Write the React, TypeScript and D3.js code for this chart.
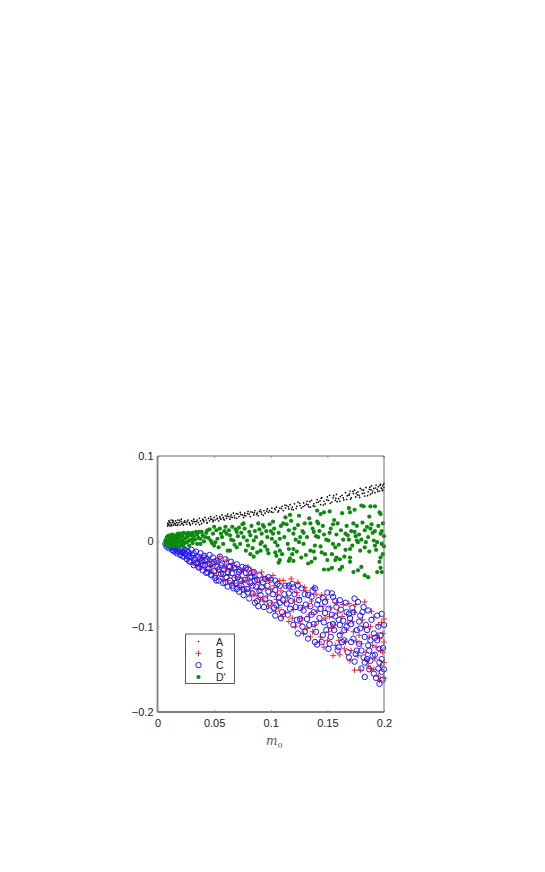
import { useEffect, useRef } from 'react';
import * as d3 from 'd3';

type Pt = [number, number];

const xTicks = [0, 0.05, 0.1, 0.15, 0.2];
const yTicks = [-0.2, -0.1, 0, 0.1];
const legendLabels = ['A', 'B', 'C', "D'"];

const seriesA: Pt[] = [
  [.009,.018],[.009,.021],[.010,.024],[.010,.020],[.011,.022],[.011,.018],[.012,.025],[.012,.020],[.013,.022],[.014,.019],[.014,.023],[.015,.021],[.016,.024],[.016,.019],[.017,.022],[.018,.020],[.018,.025],[.019,.022],[.020,.019],[.021,.023],[.021,.026],[.022,.021],[.023,.019],[.024,.024],[.025,.022],[.026,.020],[.027,.025],[.028,.022],[.029,.019],[.030,.024],[.031,.021],[.032,.026],[.033,.023],[.034,.020],[.035,.025],[.036,.022],[.037,.027],[.038,.024],[.039,.021],[.040,.026],[.041,.023],[.042,.028],[.043,.025],[.044,.022],[.045,.027],[.046,.024],[.047,.029],[.048,.026],[.049,.023],[.050,.028],[.051,.025],[.052,.030],[.053,.027],[.054,.024],[.055,.029],[.056,.026],[.057,.031],[.058,.028],[.059,.025],[.060,.030],[.061,.027],[.062,.032],[.063,.029],[.064,.026],[.065,.031],[.066,.028],[.067,.033],[.068,.030],[.070,.027],[.071,.032],[.072,.029],[.073,.034],[.075,.031],[.076,.028],[.077,.033],[.078,.030],[.080,.035],[.081,.032],[.082,.029],[.084,.034],[.085,.031],[.086,.036],[.088,.033],[.089,.030],[.090,.035],[.091,.037],[.092,.032],[.094,.036],[.095,.033],[.097,.038],[.098,.034],[.099,.036],[.101,.039],[.102,.034],[.104,.037],[.105,.040],[.107,.036],[.108,.039],[.110,.041],[.111,.036],[.113,.039],[.114,.042],[.116,.038],[.117,.043],[.119,.040],[.120,.037],[.121,.044],[.123,.041],[.124,.046],[.126,.042],[.127,.039],[.129,.045],[.130,.042],[.132,.047],[.133,.043],[.135,.040],[.136,.048],[.138,.044],[.139,.041],[.141,.049],[.142,.046],[.144,.043],[.145,.051],[.147,.047],[.148,.044],[.150,.052],[.151,.048],[.152,.054],[.154,.046],[.155,.051],[.157,.048],[.158,.055],[.160,.050],[.161,.047],[.163,.054],[.164,.051],[.166,.057],[.167,.049],[.169,.054],[.170,.059],[.171,.051],[.173,.056],[.174,.060],[.175,.052],[.177,.058],[.178,.054],[.179,.062],[.181,.056],[.182,.060],[.183,.053],[.184,.063],[.186,.058],[.187,.061],[.188,.055],[.189,.065],[.190,.059],[.191,.062],[.192,.057],[.193,.066],[.194,.061],[.195,.064],[.196,.059],[.197,.067],[.198,.062],[.199,.065],[.199,.060],[.200,.068],[.200,.063],
  [.0095,.0195],[.0105,.0225],[.0125,.0185],[.0135,.0245],[.0155,.0205],[.0175,.0185],[.0195,.0245],[.0215,.0205],[.0235,.0225],[.0262,.0235],[.0285,.0205],[.0315,.0235],[.0345,.0235],[.0372,.0195],[.0405,.0245],[.0435,.0215],[.0468,.0262],[.0492,.0245],[.0525,.0262],[.0552,.0272],[.0585,.0262],[.0615,.0295],[.0648,.0285],[.0682,.0275],[.0695,.0325],[.0735,.0315],[.0768,.0305],[.0795,.0325],[.0825,.0345],[.0855,.0335],[.0875,.0315],[.0915,.0345],[.0935,.0305],[.0965,.0355],[.1005,.0345],[.1035,.0385],[.1065,.0345],[.1095,.0385],[.1125,.0425],[.1155,.0405],[.1185,.0375],[.1225,.0385],[.1255,.0445],[.1285,.0405],[.1315,.0435],[.1345,.0465],[.1375,.0415],[.1405,.0455],[.1435,.0475],[.1465,.0425],[.1495,.0485],[.1525,.0445],[.1555,.0535],[.1585,.0465],[.1615,.0525],[.1645,.0485],[.1675,.0535],[.1705,.0495],[.1725,.0585],[.1755,.0565],[.1785,.0515],[.1805,.0605],[.1825,.0565],[.1855,.0535],[.1875,.0635],[.1895,.0565],[.1925,.0625],[.1945,.0585],[.1965,.0655],[.1985,.0595],[.1995,.0665],[.1975,.0625],[.1885,.0605],[.1765,.0545],[.1695,.0555],[.1575,.0505],[.1445,.0505],[.1335,.0405],
];

const seriesB: Pt[] = [
  [.010,-.006],[.013,-.005],[.016,-.012],[.019,-.010],[.022,-.015],[.024,-.011],[.027,-.020],[.029,-.014],[.031,-.025],[.033,-.017],[.035,-.022],[.037,-.029],[.039,-.019],[.041,-.026],[.043,-.033],[.045,-.021],[.047,-.028],[.049,-.037],[.051,-.024],[.053,-.033],[.055,-.018],[.057,-.041],[.059,-.028],[.061,-.022],[.062,-.046],[.064,-.035],[.066,-.026],[.068,-.049],[.070,-.030],[.072,-.042],[.074,-.054],[.076,-.034],[.078,-.046],[.080,-.030],[.082,-.058],[.084,-.040],[.086,-.036],[.088,-.064],[.090,-.048],[.092,-.036],[.094,-.070],[.096,-.044],[.098,-.076],[.100,-.056],[.102,-.040],[.104,-.082],[.106,-.062],[.108,-.046],[.110,-.088],[.112,-.072],[.114,-.052],[.116,-.094],[.118,-.044],[.120,-.080],[.122,-.100],[.124,-.048],[.125,-.066],[.127,-.090],[.129,-.108],[.131,-.058],[.133,-.076],[.135,-.112],[.138,-.054],[.139,-.098],[.141,-.082],[.143,-.118],[.145,-.063],[.147,-.124],[.148,-.090],[.149,-.068],[.151,-.106],[.153,-.078],[.155,-.134],[.156,-.098],[.158,-.072],[.160,-.116],[.161,-.133],[.163,-.088],[.165,-.126],[.167,-.104],[.169,-.073],[.170,-.140],[.172,-.094],[.174,-.083],[.174,-.151],[.176,-.118],[.178,-.110],[.179,-.151],[.181,-.092],[.183,-.071],[.184,-.130],[.186,-.146],[.188,-.149],[.188,-.100],[.190,-.122],[.191,-.089],[.192,-.138],[.194,-.110],[.195,-.158],[.196,-.114],[.196,-.163],[.197,-.128],[.198,-.095],[.199,-.108],[.200,-.091],[.200,-.160],[.200,-.142],
  [.034,-.028],[.038,-.024],[.042,-.017],[.046,-.035],[.048,-.030],[.052,-.040],[.054,-.022],[.056,-.036],[.058,-.045],[.060,-.032],[.063,-.040],[.065,-.050],[.067,-.033],[.069,-.042],[.071,-.052],[.073,-.036],[.075,-.047],[.077,-.057],[.079,-.040],[.081,-.050],[.083,-.034],[.085,-.062],[.087,-.044],[.089,-.056],[.091,-.068],[.093,-.042],[.095,-.055],[.097,-.064],[.099,-.046],[.101,-.072],[.103,-.052],[.105,-.068],[.107,-.078],[.109,-.058],[.111,-.046],[.113,-.084],[.115,-.066],[.117,-.056],[.119,-.090],[.121,-.070],[.123,-.060],[.126,-.096],[.128,-.078],[.130,-.054],[.132,-.102],[.134,-.086],[.136,-.070],[.137,-.106],[.140,-.062],[.142,-.094],[.144,-.112],[.146,-.076],[.150,-.116],[.152,-.088],[.154,-.102],[.157,-.122],[.159,-.084],[.162,-.108],[.164,-.074],[.166,-.118],[.168,-.096],[.171,-.128],[.173,-.106],[.175,-.074],[.177,-.134],[.180,-.120],[.182,-.100],[.185,-.140],[.187,-.112],[.189,-.082],[.191,-.150],[.193,-.124],[.195,-.098],[.197,-.146],[.199,-.130],[.200,-.118],
];

const seriesC: Pt[] = [
  [.007,-.003],[.008,-.006],[.009,-.004],[.010,-.008],[.011,-.006],[.012,-.003],[.013,-.010],[.014,-.007],[.015,-.005],[.015,-.012],[.016,-.009],[.017,-.014],[.018,-.006],[.019,-.011],[.020,-.016],[.021,-.008],[.022,-.013],[.023,-.018],[.024,-.010],[.025,-.015],[.026,-.021],[.027,-.012],[.028,-.018],[.029,-.024],[.030,-.010],[.031,-.016],[.032,-.028],[.033,-.021],[.034,-.012],[.035,-.026],[.036,-.018],[.037,-.031],[.038,-.014],[.039,-.023],[.040,-.034],[.041,-.017],[.042,-.028],[.043,-.037],[.044,-.021],[.045,-.032],[.046,-.016],[.047,-.039],[.048,-.026],[.049,-.019],[.050,-.035],[.051,-.043],[.052,-.023],[.053,-.030],[.054,-.046],[.055,-.018],[.056,-.038],[.057,-.026],[.058,-.049],[.059,-.033],[.060,-.021],[.061,-.042],[.062,-.053],[.063,-.029],[.064,-.046],[.065,-.024],[.066,-.037],[.067,-.055],[.068,-.031],[.069,-.049],[.070,-.027],[.071,-.042],[.072,-.059],[.073,-.034],[.074,-.052],[.075,-.030],[.076,-.063],[.077,-.045],[.078,-.037],[.079,-.056],[.080,-.033],[.081,-.067],[.082,-.049],[.083,-.041],[.084,-.061],[.085,-.036],[.086,-.072],[.087,-.053],[.088,-.045],[.089,-.076],[.090,-.040],[.091,-.063],
  [.092,-.054],[.094,-.077],[.095,-.044],[.098,-.042],[.098,-.059],[.099,-.081],[.104,-.046],[.104,-.057],[.104,-.087],[.105,-.075],[.108,-.052],[.110,-.083],[.111,-.069],[.113,-.052],[.116,-.061],[.117,-.079],[.119,-.050],[.120,-.054],[.120,-.098],[.122,-.077],[.124,-.108],[.126,-.091],[.127,-.055],[.129,-.081],[.130,-.106],[.132,-.091],[.133,-.063],[.136,-.065],[.138,-.083],[.138,-.097],[.139,-.055],[.139,-.118],[.141,-.121],[.142,-.069],[.144,-.079],[.147,-.095],[.148,-.071],[.151,-.079],[.151,-.126],[.152,-.098],[.152,-.120],[.154,-.061],[.155,-.065],[.155,-.097],[.158,-.077],[.160,-.124],[.161,-.069],[.161,-.098],[.161,-.110],[.164,-.093],[.167,-.083],[.167,-.100],[.169,-.085],[.169,-.136],[.173,-.083],[.173,-.114],[.174,-.067],[.174,-.141],[.176,-.128],[.177,-.071],[.179,-.087],[.179,-.102],[.180,-.149],[.182,-.077],[.182,-.136],[.183,-.112],[.183,-.159],[.185,-.104],[.185,-.138],[.186,-.081],[.188,-.116],[.188,-.140],[.191,-.108],[.191,-.155],[.194,-.087],[.194,-.116],[.195,-.149],[.196,-.126],[.196,-.167],[.198,-.085],[.198,-.138],[.198,-.153],[.200,-.098],[.107,-.066],[.114,-.073],[.125,-.069],[.135,-.076],[.146,-.110],[.157,-.088],[.165,-.116],[.171,-.097],[.178,-.120],[.187,-.128],[.192,-.133],
  [.012,-.007],[.014,-.011],[.016,-.006],[.018,-.012],[.020,-.009],[.022,-.017],[.024,-.014],[.026,-.011],[.028,-.023],[.030,-.019],[.032,-.014],[.034,-.025],[.036,-.030],[.038,-.020],[.040,-.028],[.042,-.022],[.044,-.036],[.046,-.027],[.048,-.040],[.050,-.024],[.052,-.046],[.054,-.033],[.056,-.028],[.058,-.038],[.060,-.048],[.062,-.036],[.064,-.030],[.066,-.052],[.068,-.043],[.070,-.056],[.072,-.036],[.074,-.046],[.076,-.056],[.078,-.031],[.080,-.060],[.082,-.042],[.084,-.052],[.086,-.046],[.088,-.070],[.090,-.058],[.093,-.048],[.095,-.068],[.097,-.052],[.099,-.072],[.100,-.045],[.102,-.062],[.103,-.078],[.106,-.050],[.108,-.072],[.109,-.090],[.112,-.062],[.115,-.086],[.116,-.052],[.118,-.070],[.121,-.062],[.123,-.092],[.124,-.052],[.126,-.078],[.128,-.100],[.130,-.062],[.131,-.074],[.133,-.114],[.134,-.098],[.136,-.086],[.137,-.058],[.140,-.106],[.141,-.074],[.143,-.090],[.145,-.118],[.146,-.066],[.148,-.084],[.149,-.104],[.150,-.060],[.153,-.112],[.154,-.086],[.156,-.104],[.157,-.070],[.159,-.128],[.160,-.092],[.162,-.080],[.163,-.118],[.165,-.104],[.166,-.072],[.168,-.130],[.170,-.090],[.171,-.118],[.172,-.078],[.175,-.132],[.176,-.104],[.178,-.094],[.180,-.128],[.181,-.083],[.183,-.142],[.184,-.098],[.186,-.122],[.187,-.150],[.189,-.092],[.190,-.134],[.192,-.113],[.193,-.160],[.195,-.100],[.196,-.142],[.197,-.110],[.199,-.125],[.199,-.162],[.200,-.150],
];

const seriesD: Pt[] = [
  [.007,.001],[.007,-.003],[.008,.004],[.008,-.002],[.009,.006],[.009,-.005],[.010,.002],[.010,-.006],[.011,.007],[.011,-.001],[.012,.004],[.012,-.004],[.013,.008],[.013,.000],[.014,-.006],[.014,.005],[.015,.002],[.015,-.003],[.016,.007],[.016,-.005],[.017,.003],[.018,-.001],[.018,.009],[.019,.005],[.019,-.007],[.020,.009],[.020,.001],[.021,-.003],[.022,.006],[.023,-.006],[.024,.003],[.025,.009],[.026,-.001],[.027,.006],[.028,-.005],[.029,.009],[.030,.002],[.031,-.002],[.032,.006],[.034,.011],[.035,-.003],[.036,.004],
  [.038,-.003],[.039,.011],[.042,.005],[.044,.013],[.047,.001],[.050,.017],[.050,-.005],[.051,-.001],[.054,-.007],[.056,.009],[.057,.005],[.059,.012],[.060,.017],[.062,-.011],[.064,-.011],[.064,.007],[.067,.001],[.069,.014],[.070,.011],[.070,-.007],[.073,-.003],[.075,.020],[.076,.021],[.076,.005],[.078,-.011],[.081,.011],[.082,-.015],[.085,-.018],[.085,.001],[.086,.012],[.089,.021],[.091,-.011],
  [.091,-.003],[.092,.009],[.092,-.001],[.094,.017],[.097,.005],[.097,-.010],[.100,.012],[.102,.023],[.102,.009],[.104,-.001],[.104,-.013],[.105,-.017],[.107,-.025],[.108,.003],[.108,-.011],[.108,-.022],[.111,.021],[.113,.028],[.116,.013],[.116,-.009],[.116,-.023],[.117,.031],[.117,-.020],[.120,.009],[.120,-.009],[.120,-.023],[.125,.030],[.125,-.001],[.126,.005],[.127,-.019],[.129,.010],[.129,-.003],[.130,.021],[.133,-.026],[.135,.021],[.135,-.011],[.136,-.024],[.138,.011],[.139,-.005],[.139,-.020],[.141,.036],[.141,.023],[.142,.021],[.142,.005],[.144,.032],[.145,-.013],[.147,.034],[.147,.008],[.147,-.033],[.148,-.015],[.151,.001],[.151,-.033],[.152,.035],[.152,.010],[.154,-.015],[.154,-.031],[.155,-.003],[.156,.025],[.157,-.007],[.157,-.022],[.158,-.019],[.159,.021],[.161,-.021],[.161,-.033],[.163,.033],[.163,-.030],[.166,.009],[.166,-.010],[.168,.007],[.169,.039],[.170,.034],[.170,-.009],[.170,-.019],[.170,-.024],[.173,.021],[.173,-.036],[.174,.037],[.174,.011],[.176,.001],[.177,-.001],[.177,-.034],[.179,-.011],[.180,.042],[.180,-.030],[.182,.041],[.183,-.007],[.183,-.040],[.184,-.001],[.185,.017],[.186,-.042],[.187,.029],[.188,.041],[.188,.015],[.191,.001],[.192,.041],[.192,.012],[.192,-.005],[.194,-.001],[.194,-.036],[.196,.034],[.197,.032],[.197,.009],[.197,-.019],[.197,-.031],[.198,-.003],[.198,-.036],[.199,.021],[.199,-.015],[.200,.006],
  [.008,.000],[.009,.002],[.010,-.003],[.011,.004],[.012,.000],[.013,.004],[.014,.001],[.015,.006],[.016,.001],[.017,-.004],[.018,.005],[.020,.005],[.021,.008],[.022,.001],[.023,.010],[.024,-.002],[.026,.005],[.027,.010],[.028,.001],[.030,.007],[.031,.010],[.033,.002],[.035,.008],[.037,.011],[.038,.003],[.040,.007],[.041,.000],[.043,.010],[.045,.004],[.046,.014],[.048,-.002],[.049,.009],[.052,.013],[.053,.003],[.055,.015],[.058,-.003],[.061,.009],[.063,.013],[.065,.002],[.066,.017],[.068,-.004],[.071,.006],[.072,.016],[.074,.010],[.077,.015],[.079,.001],[.080,-.005],[.082,.007],[.083,.018],[.084,-.008],[.087,.005],[.088,-.013],[.090,.014],[.093,.019],[.095,-.006],[.096,.012],[.098,-.014],[.099,.020],[.101,.003],[.103,.015],[.106,-.005],[.107,.010],[.109,.018],[.110,-.015],[.112,.005],[.114,.020],[.115,-.003],[.118,.024],[.119,-.015],[.121,.015],[.122,.002],[.123,-.012],[.124,.019],[.128,.012],[.131,-.016],[.132,.005],[.134,.027],[.137,.015],[.138,-.012],[.140,.006],[.143,.012],[.144,-.006],[.146,.018],[.149,.002],[.150,-.022],[.153,.015],[.155,.020],[.158,.008],[.160,-.004],[.162,.013],[.164,.002],[.165,-.018],[.167,.018],[.169,.002],[.171,.012],[.172,-.005],[.175,.006],[.176,.018],[.178,.008],[.180,.002],[.181,.022],[.183,.013],[.186,.005],[.187,-.012],[.189,.020],[.190,.010],[.193,-.010],[.195,.018],[.196,-.024],[.198,.012],[.200,-.006],
];

const blue = '#1a1aff';
const red = '#ff2020';
const green = '#108a10';
const frame = '#6e6e6e';

const App = () => {
  const svgRef = useRef<SVGSVGElement>(null);

  useEffect(() => {
    const svg = d3.select(svgRef.current);
    svg.selectAll('*').remove();

    const x = d3.scaleLinear().domain([0, 0.2]).range([157.5, 384]);
    const y = d3.scaleLinear().domain([-0.2, 0.1]).range([712, 456]);

    const soft = svg.append('defs').append('filter').attr('id', 'soft');
    soft.append('feGaussianBlur').attr('stdDeviation', 0.3);

    const fmt = (d: number) => (d === 0 ? '0' : String(d).replace('-', '\u2212'));

    // marks
    const marks = svg.append('g').attr('filter', 'url(#soft)');
    marks.selectAll('.a').data(seriesA).enter().append('circle')
      .attr('cx', d => x(d[0])).attr('cy', d => y(d[1])).attr('r', 0.85).attr('fill', '#000');
    const plus = d3.symbol().type(d3.symbolPlus).size(13)();
    marks.selectAll('.b').data(seriesB).enter().append('path')
      .attr('d', plus)
      .attr('transform', d => `translate(${x(d[0])},${y(d[1])})`)
      .attr('fill', 'none').attr('stroke', red).attr('stroke-width', 1);
    marks.selectAll('.c').data(seriesC).enter().append('circle')
      .attr('cx', d => x(d[0])).attr('cy', d => y(d[1])).attr('r', 2.7)
      .attr('fill', 'none').attr('stroke', blue).attr('stroke-width', 1);
    marks.selectAll('.d').data(seriesD).enter().append('circle')
      .attr('cx', d => x(d[0])).attr('cy', d => y(d[1])).attr('r', 2.1)
      .attr('fill', green);

    // axes
    const tickStyle = (g: d3.Selection<SVGGElement, unknown, null, undefined>) => {
      g.select('.domain').remove();
      g.selectAll('line').attr('stroke', frame).attr('stroke-width', 0.7);
      g.selectAll('text').attr('font-family', 'Liberation Sans').attr('font-size', 11).attr('fill', '#222');
    };
    svg.append('g').attr('transform', 'translate(0,712)')
      .call(d3.axisBottom(x).tickValues(xTicks).tickFormat(d => fmt(+d)).tickSizeInner(-2).tickSizeOuter(0).tickPadding(7) as any)
      .call(tickStyle as any);
    svg.append('g').attr('transform', 'translate(157.5,0)')
      .call(d3.axisLeft(y).tickValues(yTicks).tickFormat(d => fmt(+d)).tickSizeInner(-2).tickSizeOuter(0).tickPadding(4) as any)
      .call(tickStyle as any);
    svg.append('g').attr('transform', 'translate(0,456)')
      .call(d3.axisTop(x).tickValues(xTicks).tickFormat(() => '').tickSizeInner(-2).tickSizeOuter(0) as any)
      .call(tickStyle as any);
    svg.append('g').attr('transform', 'translate(384,0)')
      .call(d3.axisRight(y).tickValues(yTicks).tickFormat(() => '').tickSizeInner(-2).tickSizeOuter(0) as any)
      .call(tickStyle as any);

    // frame, left and bottom heavier like the reference
    svg.append('line').attr('x1', 157.5).attr('x2', 384).attr('y1', 456).attr('y2', 456).attr('stroke', frame).attr('stroke-width', 1);
    svg.append('line').attr('x1', 384).attr('x2', 384).attr('y1', 456).attr('y2', 712).attr('stroke', frame).attr('stroke-width', 1);
    svg.append('line').attr('x1', 157.5).attr('x2', 157.5).attr('y1', 456).attr('y2', 712).attr('stroke', '#808080').attr('stroke-width', 1.8);
    svg.append('line').attr('x1', 157.5).attr('x2', 384).attr('y1', 712).attr('y2', 712).attr('stroke', '#808080').attr('stroke-width', 1.8);

    // x label
    const label = svg.append('text').attr('x', 266).attr('y', 745).attr('fill', '#555')
      .attr('font-family', 'DejaVu Serif').attr('font-size', 12).attr('font-style', 'italic');
    label.append('tspan').text('m');
    label.append('tspan').attr('dy', 3).attr('font-size', 8).attr('font-style', 'normal').text('0');

    // legend
    const legend = svg.append('g').attr('transform', 'translate(185.5,634)');
    legend.append('rect').attr('width', 49).attr('height', 49.5).attr('fill', '#fff').attr('stroke', '#333').attr('stroke-width', 0.8);
    const rowY = d3.scalePoint<string>().domain(legendLabels).range([7.5, 43]);
    legendLabels.forEach((name, i) => {
      const row = legend.append('g').attr('transform', `translate(0,${rowY(name)})`);
      const key = row.append('g').attr('transform', 'translate(13,0)').attr('filter', 'url(#soft)');
      if (i === 0) key.append('circle').attr('r', 0.8).attr('fill', '#000');
      if (i === 1) key.append('path').attr('d', plus).attr('fill', 'none').attr('stroke', red).attr('stroke-width', 1);
      if (i === 2) key.append('circle').attr('r', 2.7).attr('fill', 'none').attr('stroke', blue).attr('stroke-width', 1);
      if (i === 3) key.append('circle').attr('r', 2.1).attr('fill', green);
      row.append('text').text(name).attr('x', 30.5).attr('y', 4)
        .attr('font-family', 'Liberation Sans').attr('font-size', 10.5).attr('fill', '#222');
    });
  }, []);

  return <svg ref={svgRef} width={545} height={872} style={{ position: 'absolute', top: 0, left: 0 }} />;
};

export default App;
